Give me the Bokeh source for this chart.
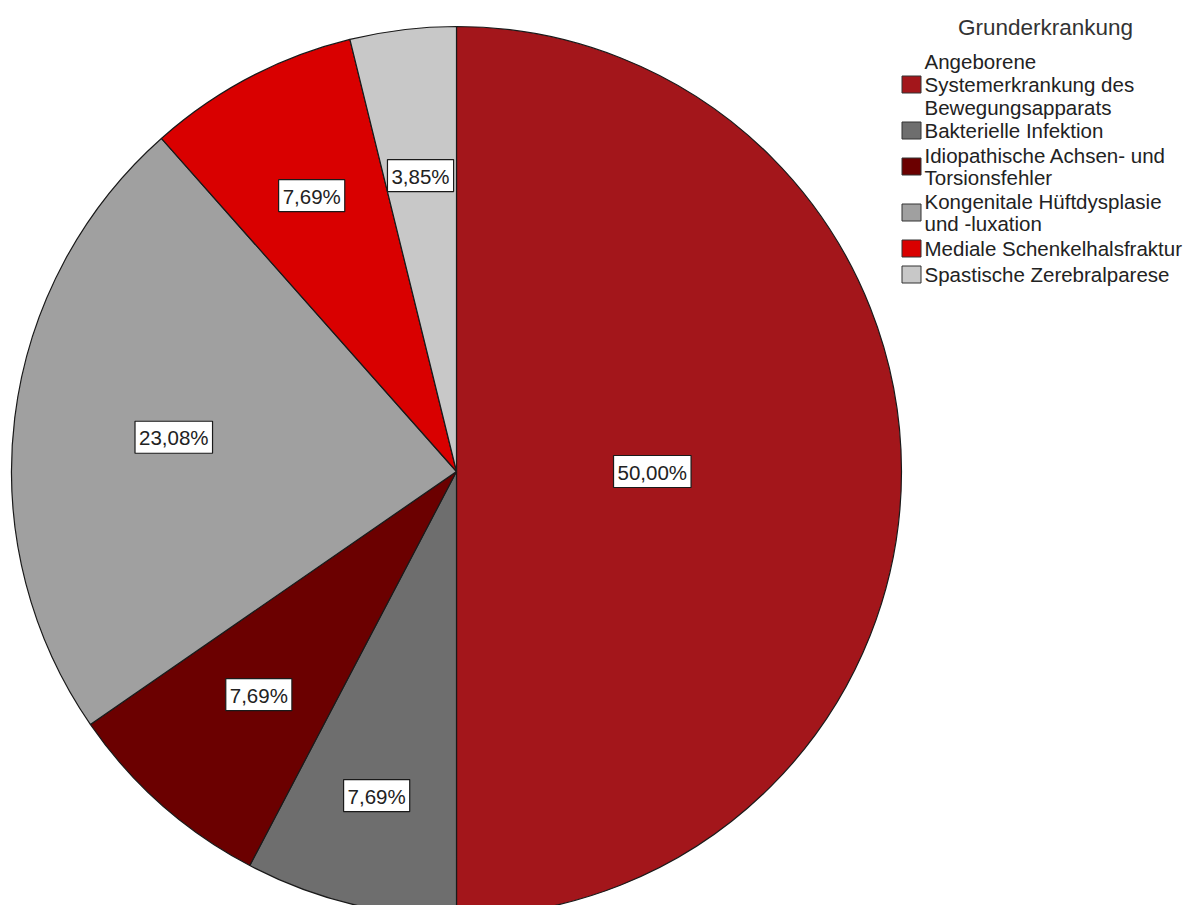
import math

from bokeh.core.properties import value
from bokeh.embed import file_html
from bokeh.models import ColumnDataSource, Range1d
from bokeh.plotting import figure
from bokeh.resources import INLINE

# Grunderkrankung – share of cases per diagnosis (percent)
categories = [
    "Angeborene\nSystemerkrankung des\nBewegungsapparats",
    "Bakterielle Infektion",
    "Idiopathische Achsen- und\nTorsionsfehler",
    "Kongenitale Hüftdysplasie\nund -luxation",
    "Mediale Schenkelhalsfraktur",
    "Spastische Zerebralparese",
]
percent = [50.00, 7.69, 7.69, 23.08, 7.69, 3.85]
legend_title = "Grunderkrankung"

# styling
colors = ["#A3161B", "#6E6E6E", "#6B0000", "#A0A0A0", "#D90000", "#C8C8C8"]
label_radius = [0.44, 0.75, 0.67, 0.64, 0.70, 0.67]  # fraction of the pie radius
FONT = "Liberation Sans"

W, H = 1188, 905
cx, cy, R = 456, H - 471, 445

p = figure(width=W, height=H, output_backend="svg", toolbar_location=None,
           x_range=Range1d(0, W), y_range=Range1d(0, H), min_border=0)
p.axis.visible = False
p.grid.visible = False
p.outline_line_color = None
p.background_fill_color = "white"
p.border_fill_color = "white"

# slice angles: start at 12 o'clock, run clockwise
total = sum(percent)
starts, ends, mids = [], [], []
acc = 0.0
for v in percent:
    a0 = math.pi / 2 - 2 * math.pi * acc / total
    acc += v
    a1 = math.pi / 2 - 2 * math.pi * acc / total
    starts.append(a0)
    ends.append(a1)
    mids.append((a0 + a1) / 2)

pie = ColumnDataSource(dict(start=starts, end=ends, color=colors))
p.wedge(x=cx, y=cy, radius=R, start_angle="start", end_angle="end",
        direction="clock", fill_color="color", line_color="#1a1a1a",
        line_width=1.2, source=pie)

# percentage labels in white boxes
lx = [cx + f * R * math.cos(m) for f, m in zip(label_radius, mids)]
ly = [cy + f * R * math.sin(m) for f, m in zip(label_radius, mids)]
txt = [f"{v:.2f}".replace(".", ",") + "%" for v in percent]
p.text(x=lx, y=ly, text=txt, text_align="center", text_baseline="middle",
       text_font=value(FONT), text_font_size="20.5px", text_color="#222222",
       background_fill_color="white", border_line_color="#1a1a1a",
       border_line_width=1.2,
       padding=dict(left=4, right=4, top=5, bottom=4))

# legend
p.text(x=[1045], y=[H - 27], text=[legend_title], text_align="center",
       text_baseline="middle", text_font=value(FONT), text_font_size="22.5px",
       text_color="#333333")

line_h = 20
gap = 6
top = 51
sw_x, sw_y, tx, tys = [], [], [], []
for name in categories:
    n = name.count("\n") + 1
    hgt = n * line_h + gap
    center = top + hgt / 2
    sw_x.append(911)
    sw_y.append(H - center)
    tys.append(H - center)
    tx.append(924)
    top += hgt

p.rect(x=sw_x, y=sw_y, width=19, height=17, fill_color=colors,
       line_color="#333333", line_width=1)
p.text(x=tx, y=tys, text=categories, text_align="left", text_baseline="middle",
       text_font=value(FONT), text_font_size="20.5px", text_color="#222222",
       text_line_height=0.98)

open("out.html", "w").write(file_html(p, INLINE))
